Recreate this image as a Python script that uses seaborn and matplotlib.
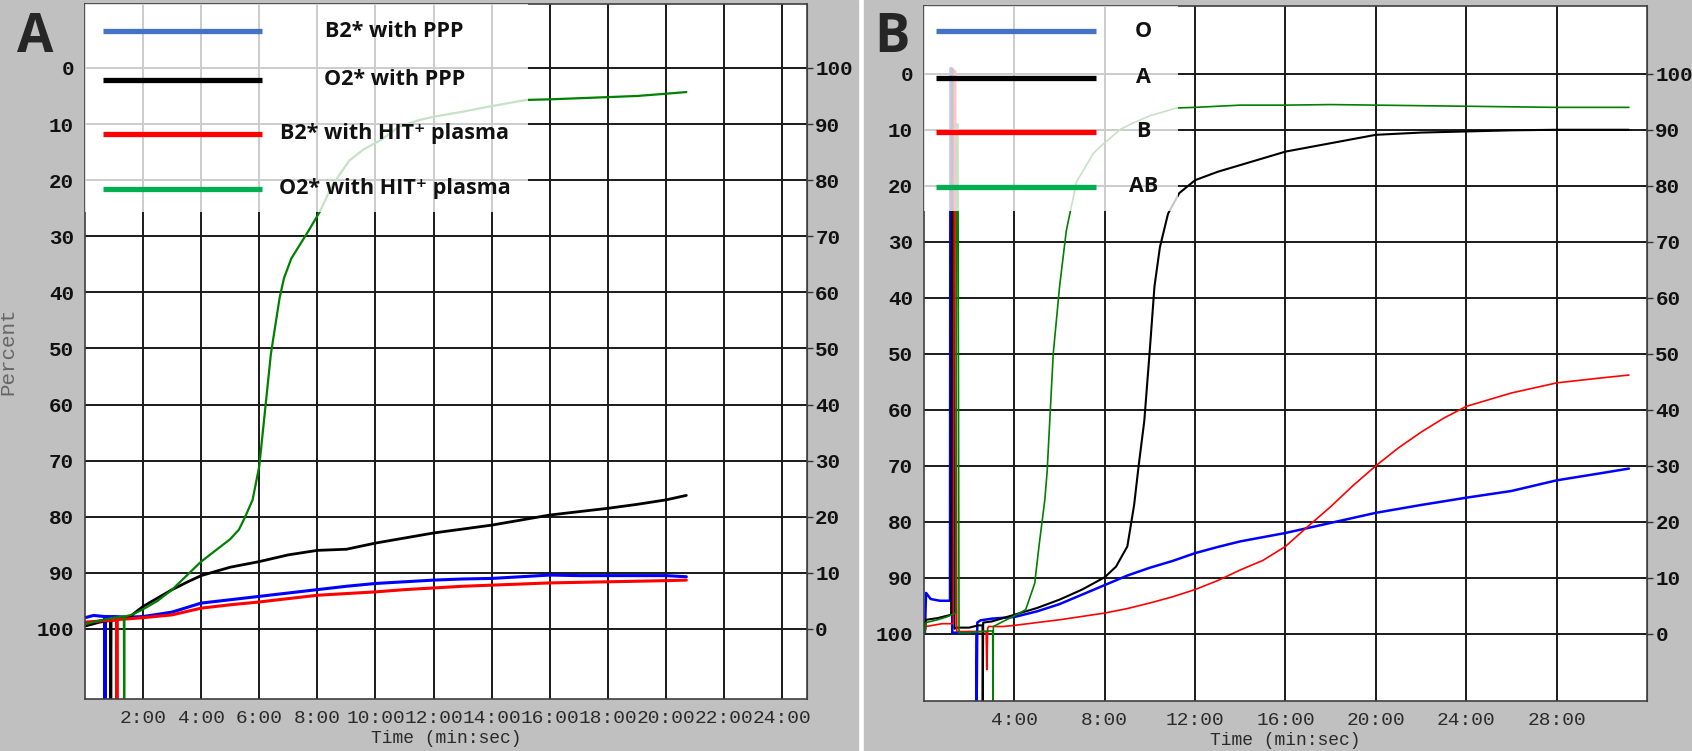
import matplotlib
matplotlib.use("Agg")
import pandas as pd
import seaborn as sns
import matplotlib.pyplot as plt
from matplotlib.patches import Rectangle

# Panel A traces (time in minutes, percent on inverted scale)
a_blue_t = [0, 0.3, 0.68, 0.69, 0.70, 1.0, 1.5, 2, 3, 4, 5, 6, 7, 8, 9, 10, 11, 12, 13, 14, 15, 16, 17, 18, 19, 20, 20.7]
a_blue_v = [98.0, 97.6, 97.8, 115, 97.8, 97.8, 97.9, 97.8, 97.0, 95.4, 94.8, 94.2, 93.6, 93.0, 92.4, 91.9, 91.6, 91.3,
            91.1, 91.0, 90.7, 90.4, 90.5, 90.5, 90.5, 90.5, 90.7]

a_black_t = [0, 0.5, 0.88, 0.89, 0.90, 1.5, 2, 2.5, 3, 3.5, 4, 5, 6, 7, 8, 9, 10, 11, 12, 13, 14, 15, 16, 17, 18, 19, 20, 20.7]
a_black_v = [99.5, 98.8, 98.5, 115, 98.5, 98.0, 96.0, 94.5, 93.0, 91.7, 90.5, 89.0, 88.0, 86.8, 86.0, 85.8, 84.7, 83.8,
             82.9, 82.2, 81.5, 80.6, 79.7, 79.1, 78.5, 77.8, 77.0, 76.2]

a_red_t = [0, 0.5, 1.09, 1.10, 1.11, 1.5, 2, 3, 4, 5, 6, 7, 8, 9, 10, 11, 12, 13, 14, 15, 16, 17, 18, 19, 20, 20.7]
a_red_v = [98.8, 98.6, 98.4, 115, 98.3, 98.2, 98.0, 97.5, 96.3, 95.7, 95.2, 94.6, 94.0, 93.7, 93.4, 93.0, 92.7, 92.4,
           92.2, 92.0, 91.8, 91.7, 91.6, 91.5, 91.4, 91.3]

a_green_t = [0, 0.5, 1.0, 1.34, 1.35, 1.36, 1.6, 2.0, 2.5, 3.0, 3.5, 4.0, 4.5, 5.0, 5.3, 5.5, 5.77, 6.0, 6.2, 6.4, 6.7,
             6.85, 7.1, 7.4, 7.7, 8.1, 8.5, 9.1, 9.6, 10.2, 10.8, 11.5, 12.0, 13.0, 13.9, 15.2, 16, 17, 18, 19, 20, 20.7]
a_green_v = [99.2, 98.5, 98.0, 97.8, 115, 97.8, 97.5, 96.5, 95.0, 93.0, 90.5, 88.0, 86.0, 84.0, 82.3, 80.2, 77.0, 71.0,
             61.0, 51.0, 41.0, 37.5, 34.0, 31.5, 29.0, 25.5, 21.0, 16.5, 14.5, 12.8, 10.5, 9.3, 8.7, 7.8, 6.9, 5.7,
             5.6, 5.4, 5.2, 5.0, 4.6, 4.3]

# Panel B traces
b_blue_t = [0, 0.04, 0.09, 0.3, 0.7, 1.15, 1.17, 1.22, 1.25, 1.5, 2.0, 2.32, 2.33, 2.36, 2.5, 3, 4, 5, 6, 7, 8, 9, 10,
            11, 12, 13, 14, 16, 18, 20, 22, 24, 26, 28, 30, 31.2]
b_blue_v = [100, 99.8, 92.7, 93.8, 94.1, 94.1, -1, -1, 99.8, 99.8, 99.7, 99.7, 113, 98.0, 97.6, 97.3, 97.0, 96.0, 94.7,
            93.0, 91.3, 89.6, 88.2, 87.0, 85.6, 84.5, 83.5, 82.0, 80.2, 78.4, 77.0, 75.7, 74.5, 72.6, 71.3, 70.5]

b_black_t = [0, 0.04, 0.09, 0.6, 1.2, 1.25, 1.3, 1.35, 1.45, 2.0, 2.4, 2.59, 2.60, 2.62, 3, 4, 5, 6, 7, 8, 8.5, 9.0,
             9.3, 9.5, 9.75, 10.0, 10.2, 10.44, 10.8, 11.3, 12, 13, 14, 16, 18, 20, 22, 24, 26, 28, 31.2]
b_black_v = [100, 99.5, 97.5, 97.2, 96.6, -0.8, -0.8, 99.1, 98.9, 98.9, 98.5, 98.5, 113, 98.0, 97.8, 96.6, 95.4, 93.9,
             92.1, 89.9, 88.0, 84.4, 77.0, 70.0, 62.0, 49.0, 38.0, 31.0, 25.0, 21.3, 19.0, 17.5, 16.3, 13.9, 12.4,
             10.9, 10.5, 10.3, 10.1, 10.0, 10.0]

b_red_t = [0, 0.04, 0.09, 0.8, 1.3, 1.35, 1.40, 1.45, 2.0, 2.75, 2.78, 2.82, 2.86, 3.5, 4, 5, 6, 7, 8, 9, 10, 11, 12,
           13, 14, 15, 16, 17, 18, 19, 20, 21, 22, 23, 24, 26, 28, 30, 31.2]
b_red_v = [100, 99.8, 98.7, 98.2, 98.2, -0.5, -0.5, 99.6, 99.6, 99.6, 106.4, 99.0, 98.7, 98.7, 98.5, 98.0, 97.5, 96.9,
           96.3, 95.5, 94.5, 93.4, 92.1, 90.5, 88.6, 86.9, 84.4, 80.8, 77.3, 73.5, 70.0, 66.8, 64.0, 61.5, 59.4,
           57.0, 55.2, 54.3, 53.8]

b_green_t = [0, 0.04, 0.09, 0.6, 1.0, 1.4, 1.45, 1.5, 1.55, 2.0, 2.5, 2.9, 3.04, 3.05, 3.07, 3.5, 4, 4.5, 4.9, 5.1,
             5.35, 5.45, 5.72, 6.0, 6.3, 6.75, 7.5, 7.8, 8.7, 9.25, 10, 11.2, 12, 14, 16, 18, 20, 22, 24, 26, 28, 31.2]
b_green_v = [100, 99.8, 98.0, 97.5, 97.0, 96.3, 9.0, 9.0, 99.8, 99.8, 99.6, 99.5, 99.5, 113, 98.7, 97.8, 96.8, 95.7,
             91.0, 84.0, 76.0, 71.0, 50.0, 38.0, 28.0, 19.3, 14.2, 13.0, 9.9, 8.8, 7.5, 6.1, 6.0, 5.6, 5.6, 5.5,
             5.6, 5.7, 5.8, 5.9, 6.0, 6.0]

# Axis ticks and legend labels
a_xticks = [2, 4, 6, 8, 10, 12, 14, 16, 18, 20, 22, 24]
b_xticks = [4, 8, 12, 16, 20, 24, 28]
y_ticks = [0, 10, 20, 30, 40, 50, 60, 70, 80, 90, 100]
a_labels = ["B2* with PPP", "O2* with PPP", "B2* with HIT\u207a plasma", "O2* with HIT\u207a plasma"]
b_labels = ["O", "A", "B", "AB"]

trace_colors = ["#0000ff", "#000000", "#ff0000", "#008000"]
legend_colors = ["#4472c4", "#000000", "#ff0000", "#00b050"]
GRAY = "#c0c0c0"
MONO = "Liberation Mono"
SANS = ["Open Sans", "DejaVu Sans"]


def make_df(traces):
    frames = []
    for name, t, v in traces:
        frames.append(pd.DataFrame({"time": t, "percent": v, "trace": name}))
    return pd.concat(frames, ignore_index=True)


df_a = make_df([("blue", a_blue_t, a_blue_v), ("black", a_black_t, a_black_v),
                ("red", a_red_t, a_red_v), ("green", a_green_t, a_green_v)])
df_b = make_df([("blue", b_blue_t, b_blue_v), ("black", b_black_t, b_black_v),
                ("red", b_red_t, b_red_v), ("green", b_green_t, b_green_v)])

sns.set_style("white")
plt.rcParams["font.family"] = SANS

fig = plt.figure(figsize=(16.92, 7.51), dpi=100, facecolor="white")
fig.patches.append(Rectangle((0, 0), 0.507, 1, transform=fig.transFigure, color=GRAY, zorder=-5))
fig.patches.append(Rectangle((0.5106, 0), 0.4894, 1, transform=fig.transFigure, color=GRAY, zorder=-5))

ax_a = fig.add_axes([0.0502, 0.0692, 0.4267, 0.9255])
ax_b = fig.add_axes([0.5461, 0.0666, 0.4273, 0.9254])


def draw_panel(ax, df, widths, xmax, xticks, ylim, legend_labels, leg_box, leg_x, text_x, leg_y):
    ax.set_facecolor("white")
    for name, col, lw in zip(["blue", "black", "red", "green"], trace_colors, widths):
        sns.lineplot(data=df[df["trace"] == name], x="time", y="percent", color=col, lw=lw,
                     sort=False, estimator=None, ax=ax, legend=False)
    ax.set_xlim(0, xmax)
    ax.set_ylim(*ylim)
    ax.set_xticks(xticks)
    ax.set_xticklabels([f"{m}:00" for m in xticks], family=MONO, fontsize=14, color="#2a2a2a")
    ax.set_yticks(y_ticks)
    ax.set_yticklabels([str(v) for v in y_ticks], family=MONO, fontsize=15, fontweight="bold", color="#111111")
    ax.tick_params(axis="x", length=5, width=1, pad=3, color="#333333")
    ax.tick_params(axis="y", length=4, width=1, pad=4, color="#333333")
    ax.grid(True, color="#1a1a1a", lw=1.4)
    ax.set_axisbelow(True)
    for sp in ax.spines.values():
        sp.set_color("#404040")
        sp.set_linewidth(1.2)
    ax.set_xlabel("Time (min:sec)", family=MONO, fontsize=13, color="#2a2a2a", labelpad=2)
    ax.set_ylabel("")

    sec = ax.secondary_yaxis("right", functions=(lambda y: 100 - y, lambda y: 100 - y))
    sec.set_yticks(y_ticks)
    sec.set_yticklabels([str(v) for v in y_ticks], family=MONO, fontsize=15, fontweight="bold", color="#111111")
    sec.tick_params(length=4, width=1, pad=2, color="#333333")
    sec.spines["right"].set_color("#404040")

    # translucent legend overlay
    w, h = leg_box
    ax.add_patch(Rectangle((0, 1 - h), w, h, transform=ax.transAxes, facecolor="white",
                           edgecolor="none", alpha=0.78, zorder=5))
    for lab, col, y in zip(legend_labels, legend_colors, leg_y):
        ax.plot(leg_x, [y, y], transform=ax.transAxes, color=col, lw=3.8,
                solid_capstyle="butt", zorder=6)
        ax.text(text_x, y, lab, transform=ax.transAxes, ha="center", va="center", fontsize=15.5,
                fontweight="bold", family=SANS, color="#111111", zorder=6)


draw_panel(ax_a, df_a, [2.2, 2.0, 2.2, 1.6], 24.85, a_xticks, (112.5, -11.4), a_labels,
           (0.614, 0.299), [0.025, 0.245], 0.429, [0.961, 0.891, 0.813, 0.734])
draw_panel(ax_b, df_b, [1.8, 1.5, 1.2, 1.2], 32.0, b_xticks, (112.0, -12.1), b_labels,
           (0.351, 0.295), [0.017, 0.238], 0.304, [0.964, 0.897, 0.819, 0.740])

ax_a.set_ylabel("Percent", family=MONO, fontsize=15, color="#666666")
ax_a.yaxis.set_label_coords(-0.094, 0.5)

fig.text(35 / 1692, 1 - 38 / 751, "A", ha="center", va="center", fontsize=38, fontweight="bold", family=SANS)
fig.text(892 / 1692, 1 - 38 / 751, "B", ha="center", va="center", fontsize=38, fontweight="bold", family=SANS)

plt.savefig("out.png", dpi=100)
